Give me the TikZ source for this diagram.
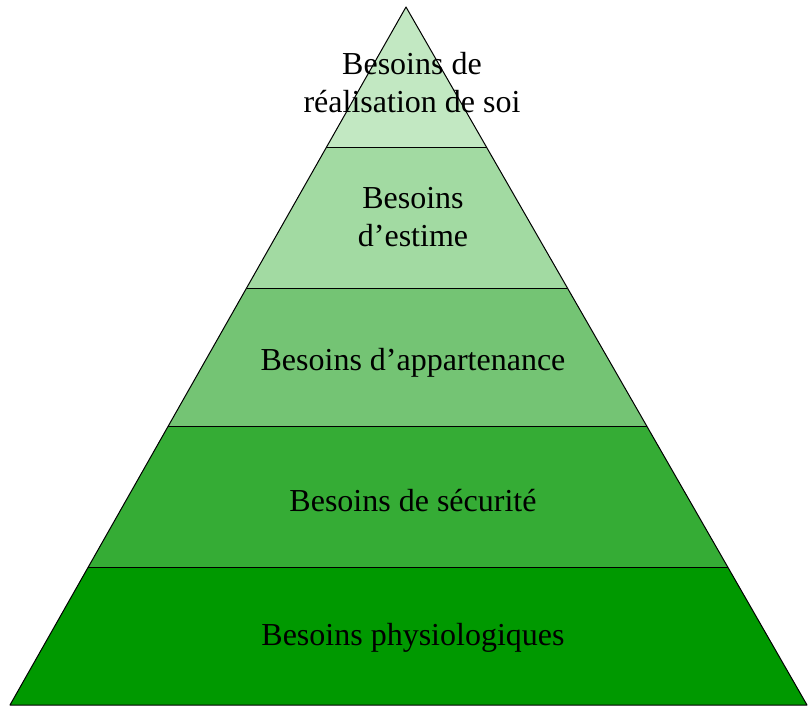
\documentclass[tikz,border=0pt]{standalone}
\usepackage{fontspec}
\setmainfont{Liberation Serif}
\definecolor{lvA}{HTML}{C2E8C2}
\definecolor{lvB}{HTML}{A2DAA2}
\definecolor{lvC}{HTML}{74C474}
\definecolor{lvD}{HTML}{35AC35}
\definecolor{lvE}{HTML}{009900}
\begin{document}
\begin{tikzpicture}[x=1pt,y=-1pt,
  layer/.style={draw=black,line width=1pt,line join=round},
  lab/.style={font=\fontsize{32}{38}\selectfont,align=center,text=black,inner sep=0pt}]
\useasboundingbox (0,0) rectangle (808,706);
% apex (406,7), base (10,705)-(807,705)
\coordinate (T) at (406,7);
\coordinate (BL) at (10,705);
\coordinate (BR) at (807,705);
\path (T) -- (BL) coordinate[pos=0.2020] (L1) coordinate[pos=0.4026] (L2) coordinate[pos=0.6017] (L3) coordinate[pos=0.8037] (L4);
\path (T) -- (BR) coordinate[pos=0.2020] (R1) coordinate[pos=0.4026] (R2) coordinate[pos=0.6017] (R3) coordinate[pos=0.8037] (R4);
\fill[lvE] (L4) -- (BL) -- (BR) -- (R4) -- cycle;
\fill[lvD] (L3) -- (L4) -- (R4) -- (R3) -- cycle;
\fill[lvC] (L2) -- (L3) -- (R3) -- (R2) -- cycle;
\fill[lvB] (L1) -- (L2) -- (R2) -- (R1) -- cycle;
\fill[lvA] (T) -- (L1) -- (R1) -- cycle;
\draw[layer] (L1) -- (R1);
\draw[layer] (L2) -- (R2);
\draw[layer] (L3) -- (R3);
\draw[layer] (L4) -- (R4);
\draw[layer] (T) -- (BL) -- (BR) -- cycle;
\node[lab] (n1) at (412,83) {Besoins de\\réalisation de soi};
\node[lab] (n2) at (413,217) {Besoins\\d’estime};
\node[lab] (n3) at (413,363) {Besoins d’appartenance};
\node[lab] (n4) at (413,501) {Besoins de sécurité};
\node[lab] (n5) at (413,638) {Besoins physiologiques};
\end{tikzpicture}
\end{document}
